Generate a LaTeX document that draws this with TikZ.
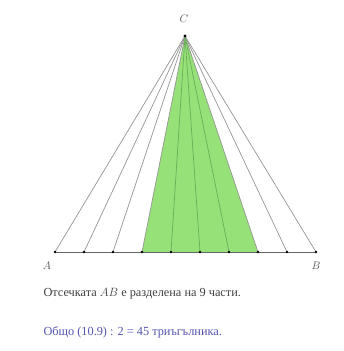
\documentclass[tikz,border=0pt]{standalone}
\usepackage{fontspec}
\setmainfont{Liberation Serif}
\definecolor{zone}{RGB}{150,225,120}
\definecolor{inline}{RGB}{105,175,90}
\definecolor{rayc}{RGB}{150,150,150}
\definecolor{bluetxt}{RGB}{85,85,175}
\begin{document}
\begin{tikzpicture}[x=1pt,y=-1pt,
  ray/.style={draw=rayc, line width=0.7pt},
  inray/.style={draw=inline, line width=0.7pt},
  dot/.style={circle, fill=black, inner sep=0pt, minimum size=2.8pt},
  lbl/.style={font=\fontsize{11}{12}\selectfont, text=black!65},
  txt/.style={anchor=base west, font=\fontsize{12.3}{14}\selectfont, text=black!75}]
\useasboundingbox[fill=white] (0,0) rectangle (343,351);
\coordinate (C) at (185,36);
\foreach \i in {0,...,9} {
  \coordinate (P\i) at ({55+\i*29},252);
}
\fill[zone] (C) -- (P3) -- (P7) -- cycle;
\foreach \i in {0,1,2,3,7,8,9} { \draw[ray] (C) -- (P\i); }
\foreach \i in {4,5,6} { \draw[inray] (C) -- (P\i); }
\draw[draw=black!60, line width=0.7pt] (P0) -- (P9);
\foreach \i in {0,...,9} { \node[dot] (D\i) at (P\i) {}; }
\node[dot, minimum size=3.2pt] (Cd) at (C) {};
\node[lbl] (Cl) at (184,19) {$C$};
\node[lbl] (Al) at (47,266) {$A$};
\node[lbl] (Bl) at (316,266) {$B$};
\node[txt] (t1) at (40,296) {Отсечката $AB$ е разделена на 9 части.};
\node[txt, text=bluetxt] (t2) at (40,335) {Общо (10.9) : 2 = 45 триъгълника.};
\end{tikzpicture}
\end{document}
